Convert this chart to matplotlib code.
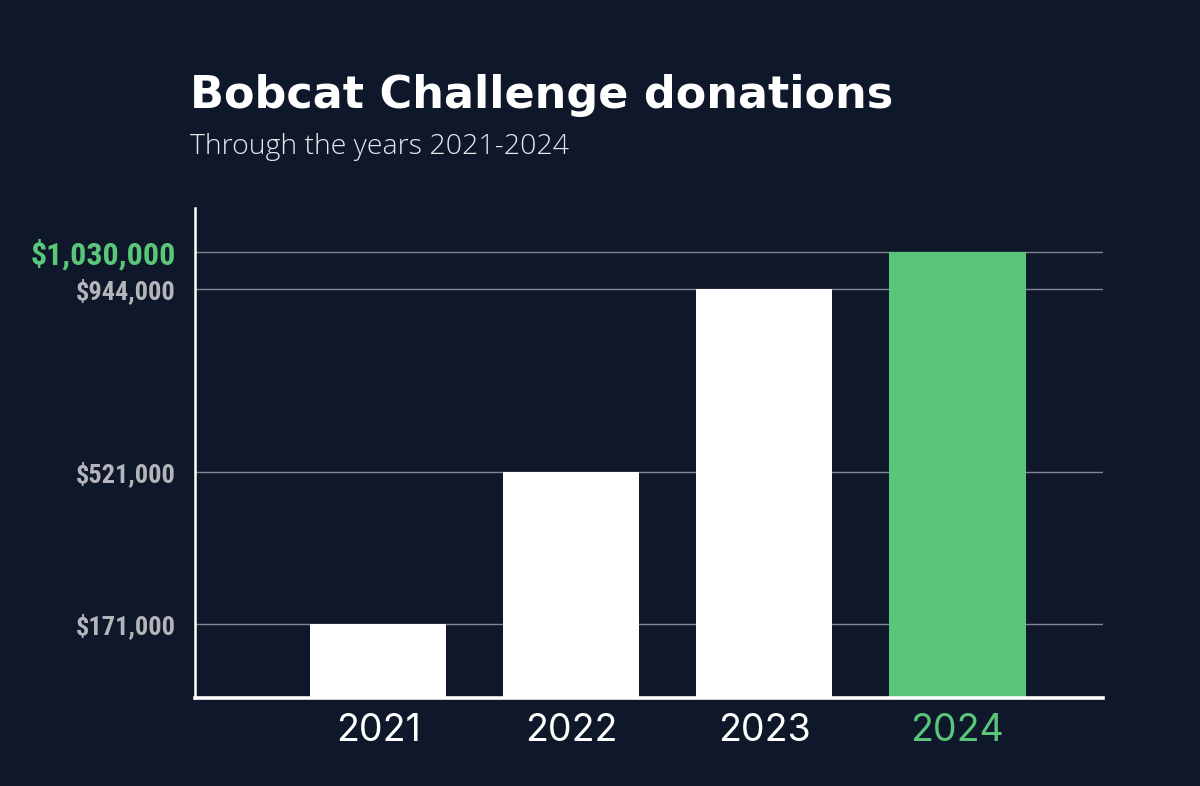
import matplotlib.pyplot as plt
import matplotlib.ticker as mticker
from matplotlib import font_manager as fm

# ── Palette & config ─────────────────────────────────────────────────────────
BG     = "#0f172a"
WHITE  = "#ffffff"
GREEN  = "#5ac67a"
GRAY   = "#b3b5ba"
GRID   = "#7f8591"
SUB    = "#e6e8ec"

# ── Data ─────────────────────────────────────────────────────────────────────
YEARS     = ["2021", "2022", "2023", "2024"]
DONATIONS = [171000, 521000, 944000, 1030000]
BAR_COLORS = [WHITE, WHITE, WHITE, GREEN]

XI = list(range(len(YEARS)))

# pick a condensed face for the value labels if one is installed
installed = {f.name for f in fm.fontManager.ttflist}
NARROW = None
for name in ["Roboto Condensed", "Liberation Sans Narrow", "Open Sans Condensed",
             "DejaVu Sans Condensed", "Noto Sans Condensed"]:
    if name in installed:
        NARROW = name
        break
if NARROW is None:
    NARROW = "Roboto"
    NARROW_SIZES = (15, 18)
else:
    NARROW_SIZES = (19, 23)

# ── Figure ───────────────────────────────────────────────────────────────────
fig = plt.figure(figsize=(12, 7.86), dpi=100, facecolor=BG)
ax = fig.add_axes([0.1625, 0.112, 0.7567, 0.623], facecolor=BG)

ax.bar(XI, DONATIONS, width=0.705, color=BAR_COLORS, zorder=3)

ax.set_xlim(-0.948, 3.754)
ax.set_ylim(0, 1130000)
ax.set_axisbelow(True)

# spines
ax.spines[["top", "right"]].set_visible(False)
ax.spines["left"].set_color(WHITE)
ax.spines["left"].set_linewidth(1.8)
ax.spines["bottom"].set_color(WHITE)
ax.spines["bottom"].set_linewidth(2.6)
ax.spines["bottom"].set_zorder(4)

# y ticks at each value
ax.set_yticks(DONATIONS)
ax.yaxis.set_major_formatter(mticker.FuncFormatter(lambda v, p: f"${v:,.0f}"))
ax.tick_params(axis="y", length=0, pad=14)
for i, lab in enumerate(ax.get_yticklabels()):
    lab.set_fontfamily([NARROW, "DejaVu Sans"])
    lab.set_fontweight("bold")
    if i == len(DONATIONS) - 1:
        lab.set_color(GREEN)
        lab.set_fontsize(NARROW_SIZES[1])
    else:
        lab.set_color(GRAY)
        lab.set_fontsize(NARROW_SIZES[0])

ax.grid(axis="y", color=GRID, linewidth=1.0)
ax.grid(axis="x", visible=False)

# x ticks
ax.set_xticks(XI)
ax.set_xticklabels(YEARS)
ax.tick_params(axis="x", length=0, pad=11)
for i, lab in enumerate(ax.get_xticklabels()):
    lab.set_fontfamily(["Inter", "DejaVu Sans"])
    lab.set_fontsize(27)
    lab.set_color(GREEN if i == len(YEARS) - 1 else WHITE)

# header
fig.text(0.158, 0.906, "Bobcat Challenge donations", fontsize=32,
         fontweight="bold", color=WHITE, va="top",
         family=["DejaVu Sans"])
fig.text(0.158, 0.831, "Through the years 2021-2024", fontsize=20.5,
         fontweight=300, color=SUB, va="top",
         family=["Open Sans", "DejaVu Sans"])

fig.savefig("out.png", dpi=100, facecolor=BG)
